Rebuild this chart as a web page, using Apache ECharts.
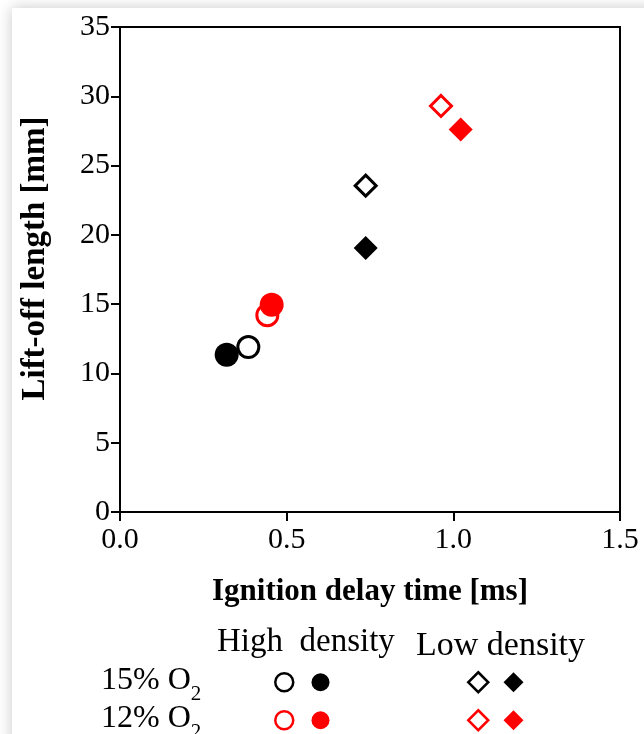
<!DOCTYPE html>
<html>
<head>
<meta charset="utf-8">
<script src="https://cdn.jsdelivr.net/npm/echarts@6/dist/echarts.min.js"></script>
<style>
html,body{margin:0;padding:0;background:#fff;}
#chart{width:644px;height:734px;}
</style>
</head>
<body>
<div id="chart"></div>
<script>
// ---- data ----
const seriesNames = [
  '15% O2 High density (open)', '15% O2 High density (filled)',
  '12% O2 High density (open)', '12% O2 High density (filled)',
  '15% O2 Low density (open)',  '15% O2 Low density (filled)',
  '12% O2 Low density (open)',  '12% O2 Low density (filled)'
];
const ignitionDelay = [0.385, 0.32, 0.442, 0.455, 0.737, 0.737, 0.963, 1.022];
const liftOffLength = [11.9, 11.35, 14.2, 14.95, 23.55, 19.05, 29.3, 27.6];
const seriesColor   = ['#000', '#000', '#ff0000', '#ff0000', '#000', '#000', '#ff0000', '#ff0000'];
const seriesFilled  = [false, true, false, true, false, true, false, true];
const seriesShape   = ['circle','circle','circle','circle','diamond','diamond','diamond','diamond'];
const xAxisRange = [0, 1.5, 0.5];
const yAxisRange = [0, 35, 5];
const columnHeaders = ['High  density', 'Low density'];
const rowLabels = ['15% O', '12% O'];

const FONT = 'Liberation Serif';

const series = seriesNames.map((name, i) => ({
  name: name,
  type: 'scatter',
  symbol: seriesShape[i],
  symbolSize: seriesFilled[i] ? 24 : 21,
  itemStyle: seriesFilled[i]
    ? { color: seriesColor[i], borderWidth: 0, opacity: 1 }
    : { color: '#fff', borderColor: seriesColor[i], borderWidth: 3, opacity: 1 },
  emphasis: { disabled: true },
  data: [[ignitionDelay[i], liftOffLength[i]]],
  z: 3 + i
}));

function legendBlock(names, left, top, size, gap) {
  return {
    left: left, top: top,
    orient: 'horizontal',
    padding: 0,
    selectedMode: false,
    itemWidth: size, itemHeight: size,
    itemGap: gap,
    formatter: function () { return ''; },
    textStyle: { fontSize: 1, padding: 0 },
    data: names.map(n => {
      const i = seriesNames.indexOf(n);
      return { name: n, itemStyle: seriesFilled[i] ? {} : { borderWidth: 2.5 } };
    })
  };
}

function rowLabel(text, top) {
  return { type: 'text', left: 101, top: top, style: { text: '{m|' + text + '}{s|2}', rich: {
    m: { fontFamily: FONT, fontSize: 32, fill: '#000', verticalAlign: 'bottom', lineHeight: 34 },
    s: { fontFamily: FONT, fontSize: 21, fill: '#000', verticalAlign: 'bottom', lineHeight: 34, padding: [0, 0, -8, 0] } } } };
}

const option = {
  backgroundColor: '#fff',
  animation: false,
  grid: { left: 120, right: 24, top: 27, bottom: 222, show: true, borderColor: '#000', borderWidth: 2, backgroundColor: 'transparent' },
  xAxis: {
    type: 'value', min: xAxisRange[0], max: xAxisRange[1], interval: xAxisRange[2],
    name: 'Ignition delay time [ms]', nameLocation: 'middle', nameGap: 64,
    nameTextStyle: { fontFamily: FONT, fontWeight: 'bold', fontSize: 31, color: '#000' },
    axisLine: { show: true, lineStyle: { color: '#000', width: 2 } },
    axisTick: { show: true, inside: false, length: 9, lineStyle: { color: '#000', width: 2 } },
    axisLabel: { fontFamily: FONT, fontSize: 30, color: '#000', margin: 13, formatter: v => v.toFixed(1) },
    splitLine: { show: false }
  },
  yAxis: {
    type: 'value', min: yAxisRange[0], max: yAxisRange[1], interval: yAxisRange[2],
    name: 'Lift-off length [mm]', nameLocation: 'middle', nameGap: 68, nameRotate: 90,
    nameTextStyle: { fontFamily: FONT, fontWeight: 'bold', fontSize: 33, color: '#000', padding: [0, 0, 0, 22] },
    axisLine: { show: true, lineStyle: { color: '#000', width: 2 } },
    axisTick: { show: true, inside: false, length: 9, lineStyle: { color: '#000', width: 2 } },
    axisLabel: { fontFamily: FONT, fontSize: 30, color: '#000', margin: 10 },
    splitLine: { show: false }
  },
  legend: [
    legendBlock([seriesNames[0], seriesNames[1]], 274, 672, 18, 17),
    legendBlock([seriesNames[4], seriesNames[5]], 467, 671, 20, 14),
    legendBlock([seriesNames[2], seriesNames[3]], 274, 710, 18, 17),
    legendBlock([seriesNames[6], seriesNames[7]], 467, 709, 20, 14)
  ],
  graphic: [
    { type: 'rect', z: -10, silent: true, shape: { x: 12, y: 8, width: 660, height: 760 },
      style: { fill: '#fff', shadowBlur: 14, shadowColor: 'rgba(0,0,0,0.22)' } },
    { type: 'text', left: 217, top: 626, style: { text: columnHeaders[0], fontFamily: FONT, fontSize: 33, fill: '#000' } },
    { type: 'text', left: 416, top: 629, style: { text: columnHeaders[1], fontFamily: FONT, fontSize: 34, fill: '#000' } },
    rowLabel(rowLabels[0], 665),
    rowLabel(rowLabels[1], 703)
  ],
  series: series
};

const chart = echarts.init(document.getElementById('chart'), null, { renderer: 'canvas' });
chart.setOption(option);
</script>
</body>
</html>
